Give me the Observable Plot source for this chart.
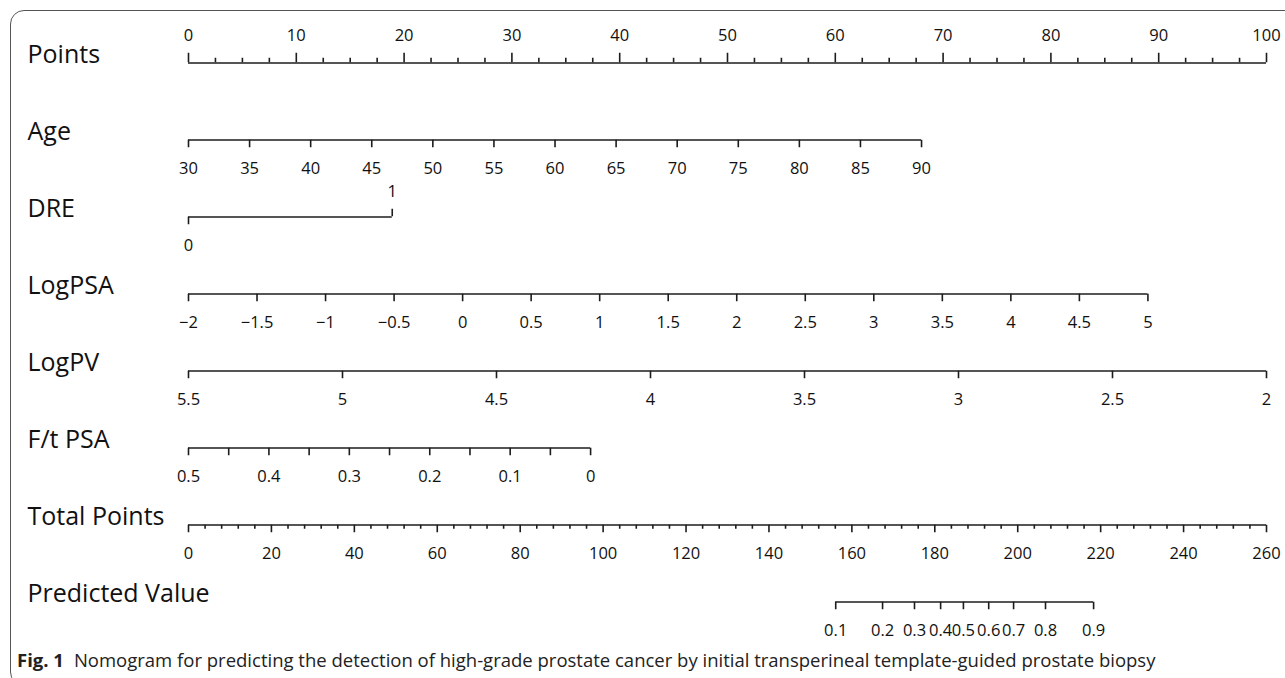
<!DOCTYPE html>
<html>
<head>
<meta charset="utf-8">
<script src="https://cdn.jsdelivr.net/npm/d3@7"></script>
<script src="https://cdn.jsdelivr.net/npm/@observablehq/plot@0.6"></script>
<style>
  body { margin: 0; background: #fff; font-family: "Open Sans", sans-serif; }
  #wrap { position: relative; width: 1285px; height: 678px; overflow: hidden; background: #fff; }
  #frame { position: absolute; left: 10px; top: 10px; width: 1320px; height: 676px;
           border: 1.5px solid #555; border-radius: 14px; box-sizing: border-box; }
  #chart { position: absolute; left: 0; top: 0; }
  #caption { position: absolute; left: 17px; top: 647px; font-size: 18.5px; line-height: 26px; color: #222;
             white-space: nowrap; font-family: "Open Sans", sans-serif; }
  #caption b { font-weight: 700; margin-right: 10px; }
</style>
</head>
<body>
<div id="wrap">
  <div id="frame"></div>
  <div id="chart"></div>
  <div id="caption"><b>Fig. 1</b>Nomogram for predicting the detection of high-grade prostate cancer by initial transperineal template-guided prostate biopsy</div>
</div>
<script>
// ---- data ----
const rows = ["Points", "Age", "DRE", "LogPSA", "LogPV", "F/t PSA", "Total Points", "Predicted Value"];

const pointsTicks = [0, 10, 20, 30, 40, 50, 60, 70, 80, 90, 100];

const ageTicks = [30, 35, 40, 45, 50, 55, 60, 65, 70, 75, 80, 85, 90];
const ageRange = [30, 90];
const agePoints = [0, 68];

const dreLevels = [0, 1];
const drePoints = [0, 18.9];

const logpsaTicks = [-2, -1.5, -1, -0.5, 0, 0.5, 1, 1.5, 2, 2.5, 3, 3.5, 4, 4.5, 5];
const logpsaRange = [-2, 5];
const logpsaPoints = [0, 89];

const logpvTicks = [5.5, 5, 4.5, 4, 3.5, 3, 2.5, 2];
const logpvRange = [5.5, 2];
const logpvPoints = [0, 100];

const ftpsaTicks = [0.5, 0.45, 0.4, 0.35, 0.3, 0.25, 0.2, 0.15, 0.1, 0.05, 0];
const ftpsaLabels = [0.5, 0.4, 0.3, 0.2, 0.1, 0];
const ftpsaRange = [0.5, 0];
const ftpsaPoints = [0, 37.3];

const totalTicks = [0, 20, 40, 60, 80, 100, 120, 140, 160, 180, 200, 220, 240, 260];
const totalRange = [0, 260];

const predValues = [0.1, 0.2, 0.3, 0.4, 0.5, 0.6, 0.7, 0.8, 0.9];
const predTotal = [156.1, 167.4, 175.1, 181.4, 186.9, 193.0, 199.0, 206.7, 218.3];

// ---- build marks data ----
const fmt = v => (v < 0 ? "\u2212" + Math.abs(v) : String(v));
const lines = [];
const ticks = [];   // {row, x, kind}
const labels = [];  // {row, x, text, pos}

function addAxis(row, values, toPts, labelVals, kind, pos) {
  const xs = values.map(toPts);
  lines.push({row, x1: d3.min(xs), x2: d3.max(xs)});
  values.forEach(v => ticks.push({row, x: toPts(v), kind}));
  (labelVals || values).forEach(v => labels.push({row, x: toPts(v), text: fmt(v), pos}));
}

// Points
const pts = d3.scaleLinear().domain([0, 100]).range([0, 100]);
addAxis("Points", pointsTicks, pts, pointsTicks, "upMajor", "above");
d3.range(2.5, 100, 2.5).filter(v => v % 10 !== 0).forEach(v => ticks.push({row: "Points", x: v, kind: "upMinor"}));

// Age
const ageS = d3.scaleLinear().domain(ageRange).range(agePoints);
addAxis("Age", ageTicks, ageS, ageTicks, "down", "below");

// DRE
lines.push({row: "DRE", x1: drePoints[0], x2: drePoints[1]});
ticks.push({row: "DRE", x: drePoints[0], kind: "down"});
ticks.push({row: "DRE", x: drePoints[1], kind: "upDre"});
labels.push({row: "DRE", x: drePoints[0], text: String(dreLevels[0]), pos: "below"});
labels.push({row: "DRE", x: drePoints[1], text: String(dreLevels[1]), pos: "aboveDre"});

// LogPSA
const psaS = d3.scaleLinear().domain(logpsaRange).range(logpsaPoints);
addAxis("LogPSA", logpsaTicks, psaS, logpsaTicks, "down", "below");

// LogPV
const pvS = d3.scaleLinear().domain(logpvRange).range(logpvPoints);
addAxis("LogPV", logpvTicks, pvS, logpvTicks, "down", "below");

// F/t PSA
const ftS = d3.scaleLinear().domain(ftpsaRange).range(ftpsaPoints);
addAxis("F/t PSA", ftpsaTicks, ftS, ftpsaLabels, "down", "below");

// Total Points
const totS = d3.scaleLinear().domain(totalRange).range([0, 100]);
addAxis("Total Points", totalTicks, totS, totalTicks, "down", "below");
d3.range(4, 260, 4).filter(v => v % 20 !== 0).forEach(v => ticks.push({row: "Total Points", x: totS(v), kind: "downMinor"}));

// Predicted Value
const predPts = predTotal.map(totS);
lines.push({row: "Predicted Value", x1: d3.min(predPts), x2: d3.max(predPts)});
predValues.forEach((p, i) => {
  ticks.push({row: "Predicted Value", x: predPts[i], kind: "down"});
  labels.push({row: "Predicted Value", x: predPts[i], text: String(p), pos: "below"});
});

// ---- layout / style ----
const BW = 77.5;        // band height
const INK = "#1c1c1c";
const SW = 1.6;
function tickMark(kind, len, up) {
  return Plot.tickX(ticks.filter(d => d.kind === kind), {
    x: "x", y: "row", stroke: INK, strokeWidth: SW,
    insetTop: up ? BW / 2 - len : BW / 2,
    insetBottom: up ? BW / 2 : BW / 2 - len
  });
}

const chart = Plot.plot({
  width: 1285,
  height: 642,
  marginLeft: 188,
  marginRight: 19,
  marginTop: 0,
  marginBottom: 0,
  style: {fontFamily: "'Open Sans', sans-serif", color: "#111", background: "transparent", overflow: "visible"},
  x: {domain: [0, 100], range: [188, 1266], axis: null},
  y: {type: "band", domain: rows, range: [21.75, 21.75 + 8 * BW], padding: 0, axis: null},
  marks: [
    Plot.ruleY(lines, {y: "row", x1: "x1", x2: "x2", stroke: INK, strokeWidth: SW}),
    tickMark("upMajor", 10, true),
    tickMark("upMinor", 5, true),
    tickMark("upDre", 8, true),
    tickMark("down", 8, false),
    tickMark("downMinor", 4.5, false),
    Plot.text(labels.filter(d => d.pos === "below"), {x: "x", y: "row", text: "text", dy: 29, fontSize: 16.5, fill: "#111"}),
    Plot.text(labels.filter(d => d.pos === "above"), {x: "x", y: "row", text: "text", dy: -27, fontSize: 16.5, fill: "#111"}),
    Plot.text(labels.filter(d => d.pos === "aboveDre"), {x: "x", y: "row", text: "text", dy: -25, fontSize: 16.5, fill: "#111"}),
    Plot.text(rows, {y: d => d, text: d => d, frameAnchor: "left", textAnchor: "start", dx: -161, dy: -8, fontSize: 25, fill: "#111"})
  ]
});
document.getElementById("chart").appendChild(chart);
</script>
</body>
</html>
